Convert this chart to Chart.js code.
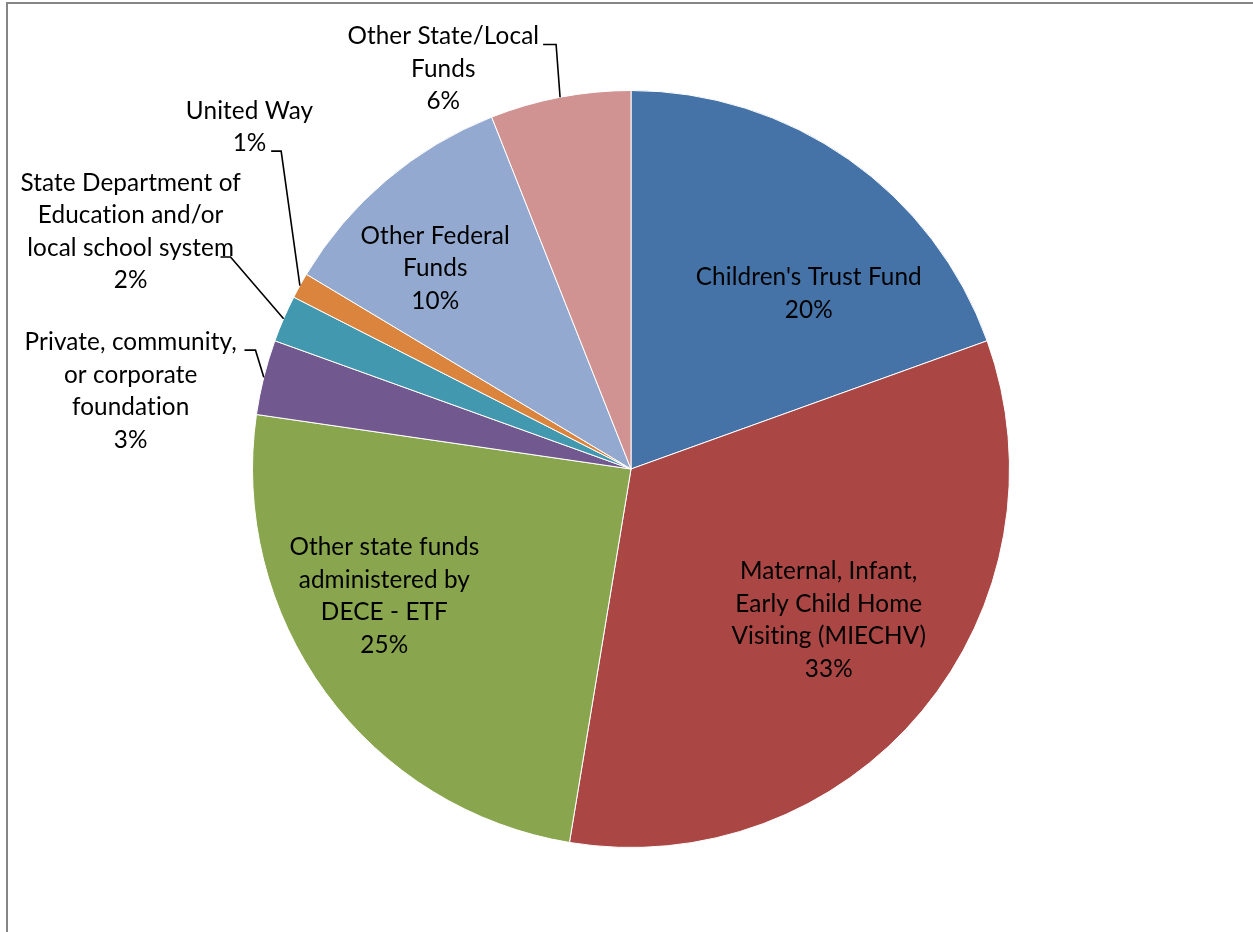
<!DOCTYPE html>
<html>
<head>
<meta charset="utf-8">
<script src="https://cdn.jsdelivr.net/npm/chart.js@4/dist/chart.umd.min.js"></script>
<style>
  html, body { margin: 0; padding: 0; background: #ffffff; }
  #c { display: block; }
</style>
</head>
<body>
<canvas id="c" width="1253" height="932"></canvas>
<script>
// ---- Data ----
const categories = [
  "Children's Trust Fund",
  "Maternal, Infant, Early Child Home Visiting (MIECHV)",
  "Other state funds administered by DECE - ETF",
  "Private, community, or corporate foundation",
  "State Department of Education and/or local school system",
  "United Way",
  "Other Federal Funds",
  "Other State/Local Funds"
];
const shares = [19.5, 33.1, 24.7, 3.2, 2.0, 1.1, 10.4, 6.0];
const percentLabels = ["20%", "33%", "25%", "3%", "2%", "1%", "10%", "6%"];
const labelLines = [
  ["Children's Trust Fund"],
  ["Maternal, Infant,", "Early Child Home", "Visiting (MIECHV)"],
  ["Other state funds", "administered by", "DECE - ETF"],
  ["Private, community,", "or corporate", "foundation"],
  ["State Department of", "Education and/or", "local school system"],
  ["United Way"],
  ["Other Federal", "Funds"],
  ["Other State/Local", "Funds"]
];

// ---- Styles ----
const sliceColors = ["#4572A7", "#AA4643", "#89A54E", "#71588F", "#4198AF", "#DB843D", "#93A9CF", "#D19392"];
// label block centre, as offset from pie centre in units of radius
const labelOffsets = [
  [0.4697, -0.4631],
  [0.5224, 0.3997],
  [-0.6517, 0.3364],
  [-1.3219, -0.2058],
  [-1.3219, -0.6266],
  [-1.0079, -0.9037],
  [-0.5172, -0.5303],
  [-0.4960, -1.0567]
];
// leader line elbows (offset from centre in radius units) and tail length in px; null = no leader
const leaders = [
  null, null, null,
  {elbow: [-0.9921, -0.3140], tail: 11},
  {elbow: [-1.0580, -0.5602], tail: 10},
  {elbow: [-0.9243, -0.8398], tail: 10},
  null,
  {elbow: [-0.1979, -1.1214], tail: 13}
];
const FONT = '24.3px Lato, "Open Sans", sans-serif';
const LINE_H = 32.5;

const labelPlugin = {
  id: 'pieLabels',
  afterDatasetsDraw(chart) {
    const ctx = chart.ctx;
    const meta = chart.getDatasetMeta(0);
    ctx.save();
    meta.data.forEach((arc, i) => {
      const p = arc.getProps(['x', 'y', 'startAngle', 'endAngle', 'outerRadius'], true);
      const r = p.outerRadius;
      const mid = (p.startAngle + p.endAngle) / 2;
      const ld = leaders[i];
      if (ld) {
        const ex = p.x + Math.cos(mid) * r;
        const ey = p.y + Math.sin(mid) * r;
        const bx = p.x + ld.elbow[0] * r;
        const by = p.y + ld.elbow[1] * r;
        ctx.beginPath();
        ctx.strokeStyle = '#000000';
        ctx.lineWidth = 1.6;
        ctx.moveTo(ex, ey);
        ctx.lineTo(bx, by);
        ctx.lineTo(bx - ld.tail, by);
        ctx.stroke();
      }
      const lines = labelLines[i].concat([percentLabels[i]]);
      const cx = p.x + labelOffsets[i][0] * r;
      const cy = p.y + labelOffsets[i][1] * r;
      ctx.font = FONT;
      if ('letterSpacing' in ctx) ctx.letterSpacing = '0.1px';
      ctx.fillStyle = '#000000';
      ctx.textAlign = 'center';
      ctx.textBaseline = 'middle';
      const top = cy - (lines.length - 1) * LINE_H / 2;
      lines.forEach((t, k) => ctx.fillText(t, cx, top + k * LINE_H));
    });
    ctx.restore();
  }
};

const framePlugin = {
  id: 'frame',
  afterDraw(chart) {
    const ctx = chart.ctx;
    ctx.save();
    ctx.strokeStyle = '#868686';
    ctx.lineWidth = 2;
    ctx.strokeRect(7, 3, 1300, 1000);
    ctx.restore();
  }
};

new Chart(document.getElementById('c'), {
  type: 'pie',
  data: {
    labels: categories,
    datasets: [{
      data: shares,
      backgroundColor: sliceColors,
      borderColor: '#ffffff',
      borderWidth: 1
    }]
  },
  options: {
    responsive: false,
    animation: false,
    layout: { padding: { left: 252, right: 243, top: 90, bottom: 84 } },
    plugins: { legend: { display: false }, tooltip: { enabled: false } }
  },
  plugins: [labelPlugin, framePlugin]
});
</script>
</body>
</html>
